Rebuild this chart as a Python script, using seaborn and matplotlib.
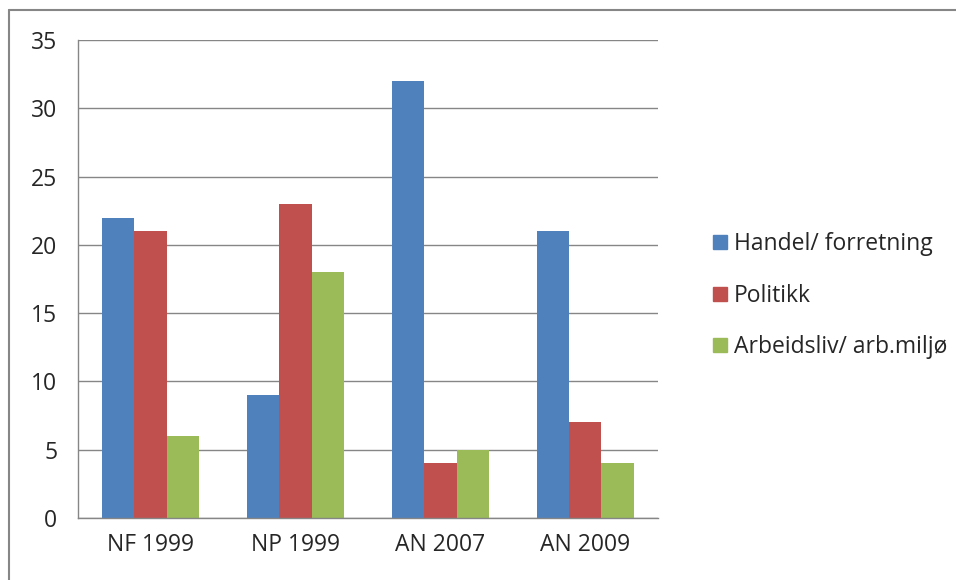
import pandas as pd
import matplotlib.pyplot as plt
import seaborn as sns
from matplotlib.lines import Line2D

categories = ['NF 1999', 'NP 1999', 'AN 2007', 'AN 2009']
series = ['Handel/ forretning', 'Politikk', 'Arbeidsliv/ arb.miljø']
handel = [22, 9, 32, 21]
politikk = [21, 23, 4, 7]
arbeidsliv = [6, 18, 5, 4]
colors = ['#4F81BD', '#C0504D', '#9BBB59']

# long form table for seaborn
rows = []
for name, vals in zip(series, [handel, politikk, arbeidsliv]):
    for cat, v in zip(categories, vals):
        rows.append({'kategori': cat, 'serie': name, 'verdi': v})
df = pd.DataFrame(rows)

sns.set_style('white')
plt.rcParams['font.family'] = ['Open Sans', 'DejaVu Sans']

fig = plt.figure(figsize=(9.56, 5.8), dpi=100)
ax = fig.add_axes([0.0816, 0.107, 0.6064, 0.824])

sns.barplot(data=df, x='kategori', y='verdi', hue='serie', palette=colors,
            width=0.67, saturation=1, linewidth=0, ax=ax, legend=False)

ax.set_ylim(0, 35)
ax.set_xlim(-0.5, 3.5)
ax.set_yticks(range(0, 36, 5))
ax.yaxis.grid(True, color='#868686', linewidth=1)
ax.set_axisbelow(True)
ax.set_xlabel('')
ax.set_ylabel('')

for s in ['top', 'right']:
    ax.spines[s].set_visible(False)
for s in ['left', 'bottom']:
    ax.spines[s].set_color('#868686')
    ax.spines[s].set_linewidth(1)

# x tick marks sit between categories
ax.set_xticks([-0.5, 0.5, 1.5, 2.5, 3.5], minor=True)
ax.tick_params(axis='x', which='major', length=0, labelsize=16.5, pad=11)
ax.tick_params(axis='x', which='minor', length=9, color='#868686', width=1)
ax.tick_params(axis='y', length=8, color='#868686', width=1, labelsize=16.5, pad=7)

handles = [Line2D([], [], marker='s', linestyle='', markersize=10,
                  markerfacecolor=c, markeredgecolor=c) for c in colors]
fig.legend(handles, series, loc='center left', bbox_to_anchor=(0.72, 0.49),
           frameon=False, fontsize=16.5, handletextpad=0.1, labelspacing=1.2,
           handlelength=1.0)

# outer chart border
fig.add_artist(Line2D([0.009, 0.009], [0.0, 0.983], transform=fig.transFigure,
                      color='#868686', linewidth=1.5))
fig.add_artist(Line2D([0.009, 1.0], [0.983, 0.983], transform=fig.transFigure,
                      color='#868686', linewidth=1.5))

fig.savefig('out.png', dpi=100)
